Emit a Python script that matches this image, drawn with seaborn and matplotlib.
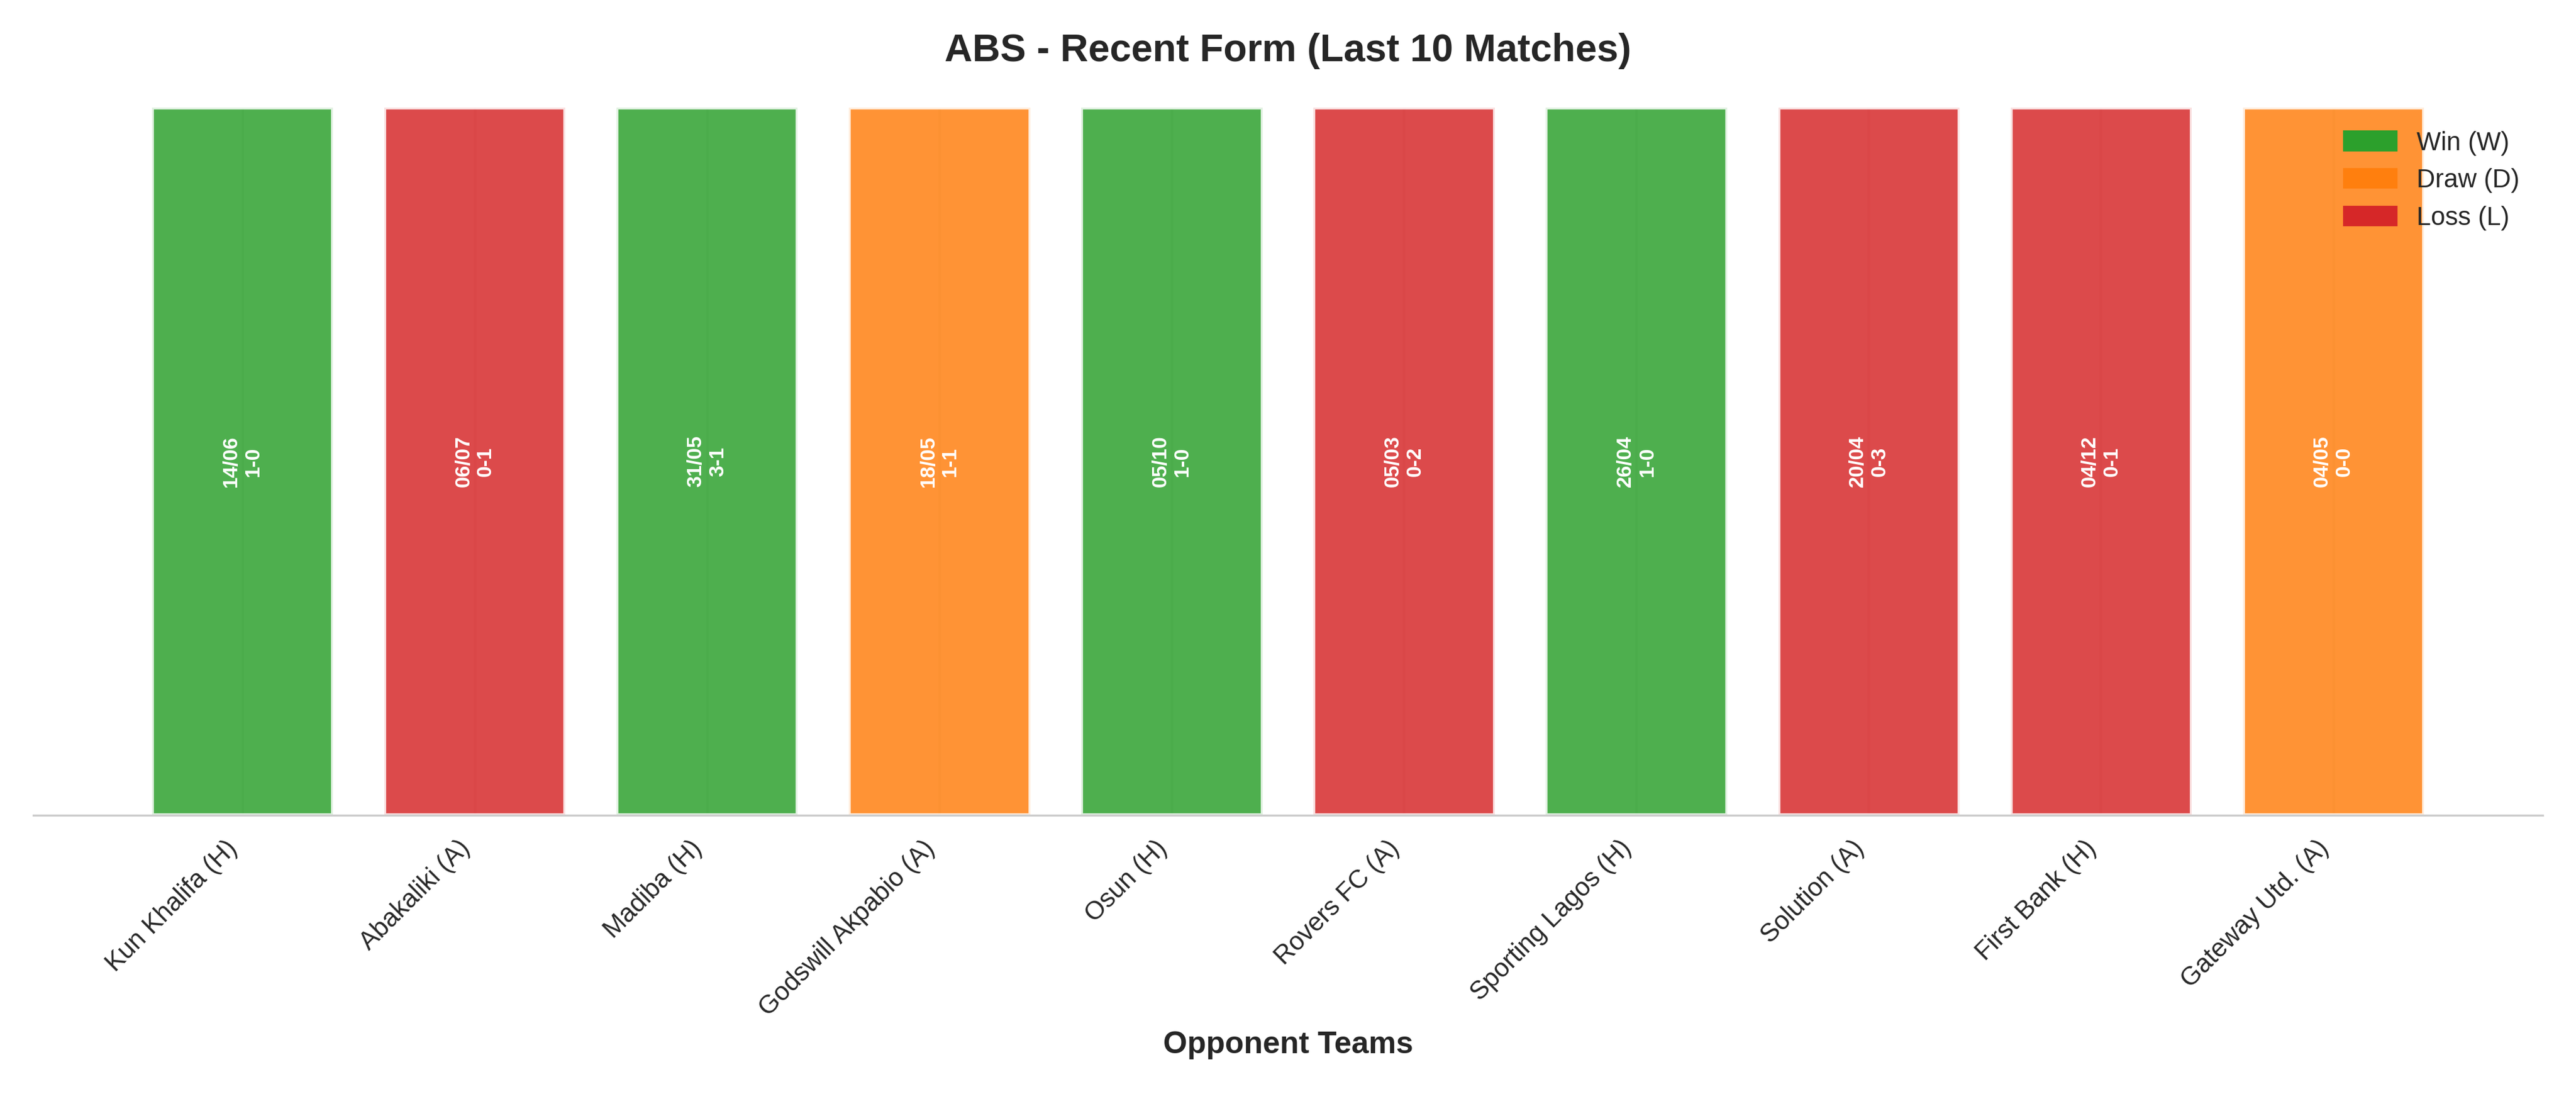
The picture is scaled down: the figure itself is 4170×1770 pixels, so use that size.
import pandas as pd
import seaborn as sns
import matplotlib.pyplot as plt
from matplotlib.patches import Patch

opponents = ['Kun Khalifa (H)', 'Abakaliki (A)', 'Madiba (H)', 'Godswill Akpabio (A)',
             'Osun (H)', 'Rovers FC (A)', 'Sporting Lagos (H)', 'Solution (A)',
             'First Bank (H)', 'Gateway Utd. (A)']
results = ['W', 'L', 'W', 'D', 'W', 'L', 'W', 'L', 'L', 'D']
dates = ['14/06', '06/07', '31/05', '18/05', '05/10', '05/03', '26/04', '20/04', '04/12', '04/05']
scores = ['1-0', '0-1', '3-1', '1-1', '1-0', '0-2', '1-0', '0-3', '0-1', '0-0']

colors = {'W': '#2ca02c', 'D': '#ff7f0e', 'L': '#d62728'}

df = pd.DataFrame({'opponent': opponents, 'result': results, 'value': 1})

sns.set_theme(style='whitegrid')
plt.rcParams['font.family'] = ['Liberation Sans', 'DejaVu Sans']

fig, ax = plt.subplots(figsize=(13.9, 5.9))
sns.barplot(data=df, x='opponent', y='value', hue='result', palette=colors,
            dodge=False, alpha=0.84, saturation=1, edgecolor='white', linewidth=1.5,
            width=0.78, legend=False, ax=ax)

for i, (d, s) in enumerate(zip(dates, scores)):
    ax.text(i, 0.5, f'{d}\n{s}', rotation=90, ha='center', va='center',
            color='white', fontsize=8, fontweight='bold')

ax.set_ylim(0, 1.0)
ax.set_xlim(-0.9, 9.9)
ax.set_yticks([])
ax.set_ylabel('')
ax.grid(axis='y', visible=False)
ax.grid(axis='x', color='#cccccc', alpha=0.3)
ax.set_xlabel('Opponent Teams', fontsize=12, fontweight='bold')
ax.set_title('ABS - Recent Form (Last 10 Matches)', fontsize=15, fontweight='bold', pad=18)
ax.tick_params(axis='x', pad=2)
plt.setp(ax.get_xticklabels(), rotation=45, ha='right', fontsize=10)
for side in ['top', 'right', 'left']:
    ax.spines[side].set_visible(False)
ax.spines['bottom'].set_color('#cccccc')
ax.spines['bottom'].set_linewidth(0.8)

handles = [Patch(color=colors['W'], label='Win (W)'),
           Patch(color=colors['D'], label='Draw (D)'),
           Patch(color=colors['L'], label='Loss (L)')]
ax.legend(handles=handles, loc='upper right', frameon=False, fontsize=10)

plt.tight_layout()
plt.savefig('out.png', dpi=300)
